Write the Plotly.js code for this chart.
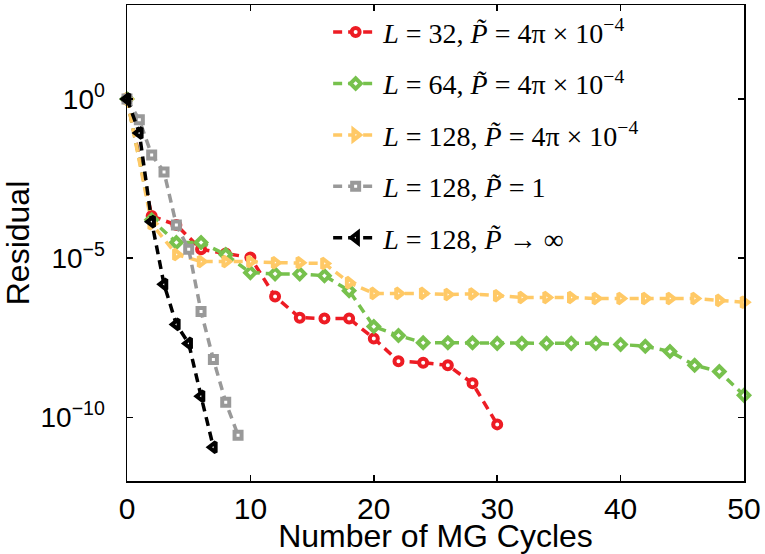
<!DOCTYPE html>
<html>
<head>
<meta charset="utf-8">
<script src="https://cdn.plot.ly/plotly-3.0.1.min.js"></script>
<style>html,body{margin:0;padding:0;background:#fff;}#chart{width:765px;height:554px;}</style>
</head>
<body>
<div id="chart"></div>
<script>
// Data
const xRed = [0, 2, 4, 6, 8, 10, 12, 14, 16, 18, 20, 22, 24, 26, 28, 30];
const yRed = [1, 2.1e-4, 1.1e-4, 1.9e-5, 1.4e-5, 1.05e-5, 6.2e-7, 1.35e-7, 1.26e-7, 1.26e-7, 3.0e-8, 5.8e-9, 5.2e-9, 4.3e-9, 1.17e-9, 6.0e-11];

const xGreen = [0, 2, 4, 6, 8, 10, 12, 14, 16, 18, 20, 22, 24, 26, 28, 30, 32, 34, 36, 38, 40, 42, 44, 46, 48, 50];
const yGreen = [1, 1.6e-4, 3.1e-5, 3.1e-5, 1.3e-5, 3.5e-6, 3.2e-6, 3.2e-6, 2.8e-6, 9.5e-7, 7.1e-8, 3.7e-8, 2.2e-8, 2.2e-8, 2.2e-8, 2.1e-8, 2.1e-8, 2.1e-8, 2.1e-8, 2.1e-8, 1.95e-8, 1.7e-8, 1.17e-8, 4.3e-9, 2.75e-9, 4.9e-10];

const xYellow = [0, 2, 4, 6, 8, 10, 12, 14, 16, 18, 20, 22, 24, 26, 28, 30, 32, 34, 36, 38, 40, 42, 44, 46, 48, 50];
const yYellow = [1, 1.2e-4, 1.3e-5, 7.8e-6, 7.8e-6, 7.8e-6, 7.2e-6, 7.2e-6, 6.8e-6, 1.7e-6, 7.8e-7, 7.8e-7, 7.8e-7, 7.2e-7, 7.5e-7, 6.6e-7, 5.8e-7, 5.8e-7, 5.8e-7, 5.4e-7, 5.4e-7, 5.4e-7, 5.4e-7, 5.4e-7, 4.7e-7, 4.1e-7];

const xGray = [0, 1, 2, 3, 4, 5, 6, 7, 8, 9];
const yGray = [1, 2.2e-1, 1.74e-2, 5.1e-3, 1.1e-4, 1.9e-5, 2.1e-7, 6.6e-9, 3.0e-10, 2.75e-11];

const xBlack = [0, 1, 2, 3, 4, 5, 6, 7];
const yBlack = [1, 8.5e-2, 1.4e-4, 1.5e-6, 8.3e-8, 2.1e-8, 4.6e-10, 1.15e-11];

const seriesNames = [
  "<i>L</i> = 32, <i>P\u0303</i> = 4π × 10<sup>−4</sup>",
  "<i>L</i> = 64, <i>P\u0303</i> = 4π × 10<sup>−4</sup>",
  "<i>L</i> = 128, <i>P\u0303</i> = 4π × 10<sup>−4</sup>",
  "<i>L</i> = 128, <i>P\u0303</i> = 1",
  "<i>L</i> = 128, <i>P\u0303</i> → ∞"
];
const xTickVals = [0, 10, 20, 30, 40, 50];
const yTickVals = [1, 1e-5, 1e-10];
const yTickText = ["10<sup>0</sup>", "10<sup>−5</sup>", "10<sup>−10</sup>"];

const colors = ["#ED1C24", "#77C14D", "#FFC966", "#999999", "#000000"];
const symbols = ["circle", "diamond", "triangle-right", "square", "triangle-left"];
const sizes = [8, 8, 9, 7, 9];
const xs = [xRed, xGreen, xYellow, xGray, xBlack];
const ys = [yRed, yGreen, yYellow, yGray, yBlack];

const traces = xs.map((x, i) => ({
  type: "scatter",
  mode: "lines+markers",
  x: x,
  y: ys[i],
  name: seriesNames[i],
  legendgroup: "g" + i,
  cliponaxis: false,
  line: {color: colors[i], width: 3.5, dash: "9px,6px"},
  marker: {symbol: symbols[i], size: sizes[i], color: "#ffffff",
           line: {color: colors[i], width: 4}}
}));

const layout = {
  width: 765, height: 554,
  margin: {l: 127, r: 21, t: 5, b: 73},
  paper_bgcolor: "#ffffff", plot_bgcolor: "#ffffff",
  showlegend: true,
  legend: {
    x: 0.326, y: 0.995, xanchor: "left", yanchor: "top",
    bgcolor: "rgba(0,0,0,0)", borderwidth: 0,
    font: {family: "Liberation Serif, DejaVu Serif, serif", size: 28, color: "#000"},
    traceorder: "grouped", tracegroupgap: 12, itemwidth: 45
  },
  xaxis: {
    range: [0, 50], tickvals: xTickVals, ticktext: xTickVals.map(String),
    showline: true, mirror: "ticks", linecolor: "#000", linewidth: 1.5,
    ticks: "inside", ticklen: 6, tickwidth: 1.5, tickcolor: "#000",
    showgrid: false, zeroline: false,
    tickfont: {family: "Liberation Sans, Arial, sans-serif", size: 30, color: "#000"},
    title: {text: "Number of MG Cycles", standoff: 6,
            font: {family: "Liberation Sans, Arial, sans-serif", size: 32, color: "#000"}}
  },
  yaxis: {
    type: "log", range: [-12, 2.95], tickvals: yTickVals, ticktext: yTickText,
    showline: true, mirror: "ticks", linecolor: "#000", linewidth: 1.5,
    ticks: "inside", ticklen: 6, tickwidth: 1.5, tickcolor: "#000",
    showgrid: false, zeroline: false, ticklabelstandoff: 15,
    tickfont: {family: "Liberation Sans, Arial, sans-serif", size: 28, color: "#000"},
    title: {text: "Residual", standoff: 14,
            font: {family: "Liberation Sans, Arial, sans-serif", size: 32, color: "#000"}}
  }
};

Plotly.newPlot("chart", traces, layout, {staticPlot: true, displayModeBar: false});
</script>
</body>
</html>
